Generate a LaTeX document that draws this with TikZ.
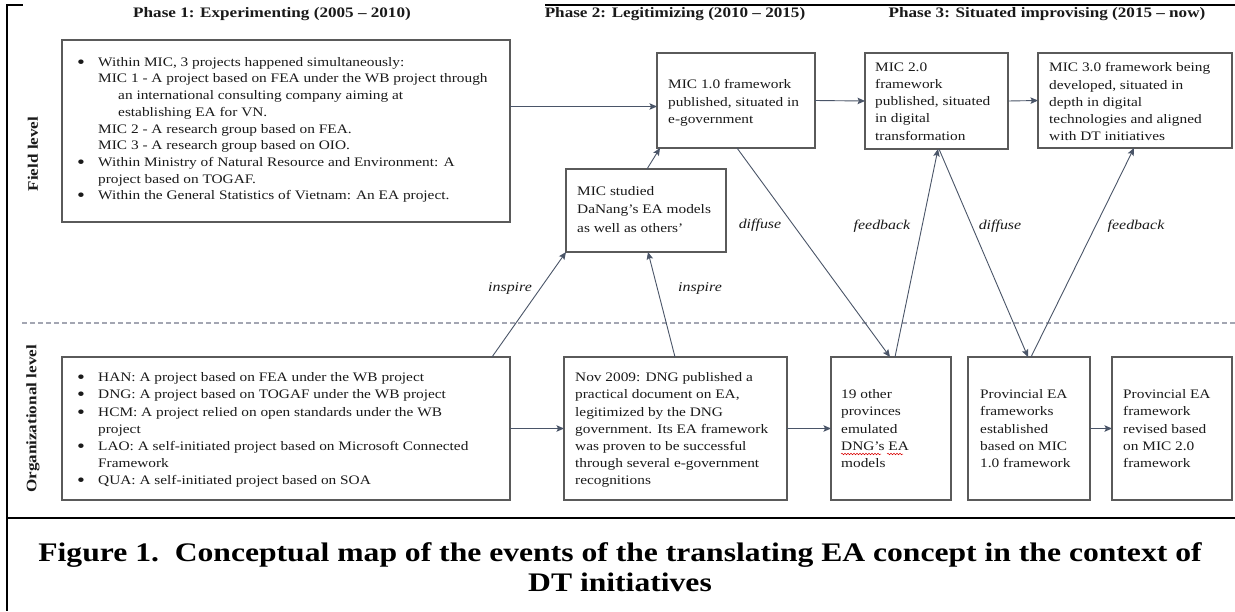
\documentclass[tikz,border=0pt]{standalone}
\usepackage{fontspec}
\setmainfont{Liberation Serif}[FakeStretch=1.18]
\usetikzlibrary{arrows.meta,calc,decorations.pathmorphing}
\definecolor{boxc}{HTML}{5A5A5A}
\definecolor{arrc}{HTML}{4A5568}
\definecolor{dashc}{HTML}{A3A6B2}
\definecolor{txtc}{HTML}{1A1A1A}
\newcommand{\bul}{\makebox[21pt][l]{\raisebox{-2pt}{\fontsize{19}{19}\selectfont\textbullet}}}
\begin{document}
\begin{tikzpicture}[x=1pt,y=-1pt,
  box/.style={draw=boxc, line width=1.3pt, inner sep=0pt, outer sep=0pt, anchor=north west},
  txt/.style={inner sep=0pt, anchor=north west, align=left, text=txtc, font=\fontsize{13}{17.2}\selectfont},
  conn/.style={draw=arrc, line width=0.9pt, -{Stealth[length=7.5pt,width=6.5pt,inset=1.5pt]}},
  lab/.style={inner sep=0pt, text=txtc, font=\fontsize{13.5}{15}\selectfont\itshape},
  phase/.style={inner sep=0pt, text=txtc, font=\fontsize{14.5}{17}\selectfont\bfseries},
  lvl/.style={inner sep=0pt, text=txtc, rotate=90, font=\fontsize{14.5}{17}\selectfont\bfseries},
  frame/.style={draw=black, line width=2pt}]
\useasboundingbox (0,0) rectangle (1235,611);
\fill[white] (0,0) rectangle (1235,611);

% outer frame
\draw[frame] (7,5) -- (23,5);
\draw[frame] (545,5) -- (1235,5);
\draw[frame] (7,4) -- (7,611);
\draw[draw=black, line width=2.5pt] (7,518) -- (1235,518);

% phase titles
\node[phase] (p1) at (272,14) {Phase 1: Experimenting (2005 -- 2010)};
\node[phase] (p2) at (675,14) {Phase 2: Legitimizing (2010 -- 2015)};
\node[phase] (p3) at (1047,14) {Phase 3: Situated improvising (2015 -- now)};

% level labels
\node[lvl] (lf) at (33,154) {Field level};
\node[lvl] (lo) at (33,419) {Organizational level};

% dashed separator
\draw[draw=dashc, line width=1.3pt, dash pattern=on 5pt off 3pt] (22,323) -- (1235,323);

% boxes
\node[box, minimum width=448pt, minimum height=182pt] (A) at (62,40) {};
\node[box, minimum width=158pt, minimum height=95pt] (MIC1) at (657,53) {};
\node[box, minimum width=143pt, minimum height=96pt] (MIC2) at (865,53) {};
\node[box, minimum width=194pt, minimum height=95pt] (MIC3) at (1038,53) {};
\node[box, minimum width=160pt, minimum height=83pt] (MS) at (566,169) {};
\node[box, minimum width=448pt, minimum height=143pt] (Org) at (62,357) {};
\node[box, minimum width=223pt, minimum height=143pt] (Nov) at (564,357) {};
\node[box, minimum width=120pt, minimum height=143pt] (Oth) at (831,357) {};
\node[box, minimum width=122pt, minimum height=143pt] (PF) at (968,357) {};
\node[box, minimum width=120pt, minimum height=143pt] (PR) at (1112,357) {};

% texts
\node[txt, font=\fontsize{13}{16.7}\selectfont] (tA) at (77,57) {%
\bul Within MIC, 3 projects happened simultaneously:\\
\hspace*{21pt}MIC 1 - A project based on FEA under the WB project through\\
\hspace*{41pt}an international consulting company aiming at\\
\hspace*{41pt}establishing EA for VN.\\
\hspace*{21pt}MIC 2 - A research group based on FEA.\\
\hspace*{21pt}MIC 3 - A research group based on OIO.\\
\bul Within Ministry of Natural Resource and Environment: A\\
\hspace*{21pt}project based on TOGAF.\\
\bul Within the General Statistics of Vietnam: An EA project.};

\node[txt] (t1) at (668,79.5) {MIC 1.0 framework\\published, situated in\\e-government};
\node[txt] (t2) at (875,62.5) {MIC 2.0\\framework\\published, situated\\in digital\\transformation};
\node[txt] (t3) at (1049,62.5) {MIC 3.0 framework being\\developed, situated in\\depth in digital\\technologies and aligned\\with DT initiatives};
\node[txt, font=\fontsize{13}{18.5}\selectfont] (tMS) at (577,186) {MIC studied\\DaNang's EA models\\as well as others'};

\node[txt] (tO) at (77,372.5) {%
\bul HAN: A project based on FEA under the WB project\\
\bul DNG: A project based on TOGAF under the WB project\\
\bul HCM: A project relied on open standards under the WB\\
\hspace*{21pt}project\\
\bul LAO: A self-initiated project based on Microsoft Connected\\
\hspace*{21pt}Framework\\
\bul QUA: A self-initiated project based on SOA};

\node[txt] (tN) at (575,372.5) {Nov 2009: DNG published a\\practical document on EA,\\legitimized by the DNG\\government. Its EA framework\\was proven to be successful\\through several e-government\\recognitions};
\node[txt] (tOth) at (841,389.5) {19 other\\provinces\\emulated\\DNG's EA\\models};
\node[txt] (tPF) at (980,389.5) {Provincial EA\\frameworks\\established\\based on MIC\\1.0 framework};
\node[txt] (tPR) at (1123,389.5) {Provincial EA\\framework\\revised based\\on MIC 2.0\\framework};

% spell-check squiggle
\draw[red!85!black, line width=0.5pt, decorate, decoration={snake, amplitude=0.8pt, segment length=3pt}] (841,454) -- (881,454);
\draw[red!85!black, line width=0.5pt, decorate, decoration={snake, amplitude=0.8pt, segment length=3pt}] (887,454) -- (903,454);

% connectors
\draw[conn] ($(A.east |- MIC1.west)+(0,6)$) -- ($(MIC1.west)+(0,6)$);
\draw[conn] (MIC1.east) -- (MIC2.west);
\draw[conn] (MIC2.east) -- (MIC3.west);
\draw[conn] (Org.east) -- (Nov.west);
\draw[conn] (Nov.east) -- (Oth.west);
\draw[conn] (PF.east) -- (PR.west);

\draw[conn] ($(Org.north east)+(-18,0)$) -- (MS.south west);
\draw[conn] ($(Nov.north west)+(111,0)$) -- ($(MS.south west)+(82,0)$);
\draw[conn] ($(MS.north west)+(81,0)$) -- ($(MIC1.south west)+(3,0)$);
\draw[conn] ($(MIC1.south west)+(80,0)$) -- ($(Oth.north west)+(59,0)$);
\draw[conn] ($(Oth.north west)+(64,0)$) -- ($(MIC2.south west)+(73,0)$);
\draw[conn] ($(MIC2.south west)+(74,0)$) -- ($(PF.north west)+(60,0)$);
\draw[conn] ($(PF.north west)+(63,0)$) -- ($(MIC3.south west)+(96,0)$);

% labels
\node[lab] (l1) at (510,288) {inspire};
\node[lab] (l2) at (700,288) {inspire};
\node[lab] (l3) at (760,225) {diffuse};
\node[lab] (l4) at (882,226) {feedback};
\node[lab] (l5) at (1000,226) {diffuse};
\node[lab] (l6) at (1136,226) {feedback};

% caption
\node[inner sep=0pt, align=center, text=black, font=\fontsize{26.8}{30}\selectfont\bfseries] (cap) at (620,567) {Figure 1.\ \ Conceptual map of the events of the translating EA concept in the context of\\DT initiatives};
\end{tikzpicture}
\end{document}
